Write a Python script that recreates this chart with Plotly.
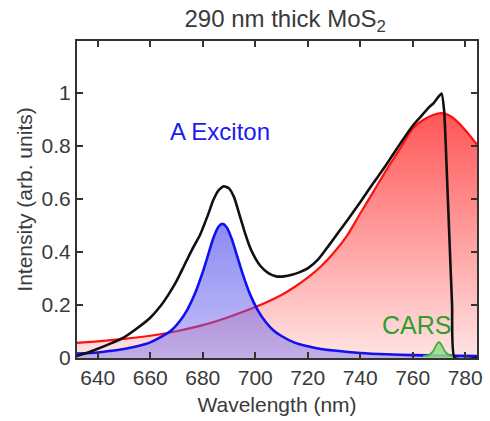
import plotly.graph_objects as go

# Wavelength grids (nm) and intensities (arb. units)
red_wl = [632, 640, 650, 660, 670, 680, 690, 700, 710, 715, 720, 725, 730, 735,
          740, 745, 750, 755, 760, 764, 768, 771, 774, 777, 780, 784.5]
red_int = [0.057, 0.063, 0.072, 0.084, 0.101, 0.124, 0.155, 0.192, 0.238, 0.268,
           0.303, 0.345, 0.398, 0.462, 0.545, 0.627, 0.71, 0.787, 0.866, 0.898,
           0.918, 0.924, 0.915, 0.892, 0.86, 0.805]

exciton_wl = [632, 640, 645, 650, 655, 660, 665, 668, 671, 674, 677, 680, 682, 684,
              686, 687.5, 689, 691, 693, 695, 698, 701, 704, 707, 710, 715, 720,
              725, 730, 740, 750, 760, 770, 784.5]
exciton_int = [0.017, 0.021, 0.027, 0.034, 0.044, 0.059, 0.084, 0.104, 0.136, 0.18,
               0.242, 0.324, 0.387, 0.451, 0.495, 0.506, 0.495, 0.451, 0.388, 0.324,
               0.241, 0.18, 0.136, 0.104, 0.083, 0.058, 0.044, 0.034, 0.028, 0.019,
               0.014, 0.011, 0.009, 0.007]

cars_wl = [764, 766, 767.5, 768.5, 769.5, 770, 770.5, 771.5, 772.5, 774, 776]
cars_int = [0.008, 0.011, 0.022, 0.04, 0.056, 0.06, 0.056, 0.04, 0.022, 0.011, 0.008]

total_wl = [632, 636, 640, 645, 650, 655, 660, 664, 667, 670, 673, 676, 679, 682,
            684, 686, 688, 690, 692, 694, 696, 698, 700, 702, 705, 708, 711, 714,
            717, 720, 724, 728, 732, 736, 740, 745, 750, 755, 760, 763, 766, 768,
            770, 771, 772, 773, 774, 775, 776, 784.5]
total_int = [0.008, 0.02, 0.035, 0.055, 0.078, 0.112, 0.152, 0.197, 0.24, 0.29,
             0.35, 0.41, 0.465, 0.54, 0.595, 0.632, 0.648, 0.64, 0.605, 0.54, 0.475,
             0.418, 0.377, 0.347, 0.32, 0.308, 0.308, 0.314, 0.324, 0.338, 0.372,
             0.424, 0.478, 0.532, 0.588, 0.66, 0.73, 0.805, 0.876, 0.91, 0.944,
             0.962, 0.988, 0.998, 0.93, 0.7, 0.45, 0.2, 0.0, 0.0]

x_ticks = [640, 660, 680, 700, 720, 740, 760, 780]
y_ticks = [0, 0.2, 0.4, 0.6, 0.8, 1]
y_tick_text = ["0", "0.2", "0.4", "0.6", "0.8", "1"]

FONT = "Liberation Sans, Arial, Helvetica, sans-serif"
TXT = "#3a3a3a"

fig = go.Figure()

# broad emission band with red vertical gradient fill
fig.add_trace(go.Scatter(
    x=red_wl, y=red_int, mode="lines",
    line=dict(color="#ff1010", width=2.2, shape="spline", smoothing=0.8),
    fill="tozeroy",
    fillgradient=dict(type="vertical", start=0, stop=0.93,
                      colorscale=[[0, "rgb(255,228,228)"], [1, "rgb(255,85,85)"]]),
    hoverinfo="skip", showlegend=False))

# A exciton peak, translucent blue fill
fig.add_trace(go.Scatter(
    x=exciton_wl, y=exciton_int, mode="lines",
    line=dict(color="#1010f0", width=2.6, shape="spline", smoothing=0.8),
    fill="tozeroy",
    fillgradient=dict(type="vertical", start=0, stop=0.51,
                      colorscale=[[0, "rgba(110,100,235,0.42)"],
                                  [1, "rgba(60,60,235,0.6)"]]),
    hoverinfo="skip", showlegend=False))

# CARS line
fig.add_trace(go.Scatter(
    x=cars_wl, y=cars_int, mode="lines",
    line=dict(color="#3cb03c", width=1.8, shape="spline", smoothing=0.8),
    fill="tozeroy", fillcolor="rgba(150,220,140,0.85)",
    hoverinfo="skip", showlegend=False))

# measured spectrum
fig.add_trace(go.Scatter(
    x=total_wl, y=total_int, mode="lines",
    line=dict(color="#111111", width=2.6, shape="spline", smoothing=0.5),
    hoverinfo="skip", showlegend=False))

fig.add_annotation(x=686.4, y=0.854, text="A Exciton", showarrow=False,
                   font=dict(family=FONT, size=24, color="#1a1af0"))
fig.add_annotation(x=761.5, y=0.125, text="CARS", showarrow=False,
                   font=dict(family=FONT, size=25, color="#2e9e2e"))

fig.update_layout(
    width=490, height=421,
    margin=dict(l=77, r=7, t=41, b=63),
    paper_bgcolor="white", plot_bgcolor="white",
    font=dict(family=FONT, size=21, color=TXT),
    title=dict(text="290 nm thick MoS<sub>2</sub>", x=0.582, xref="container",
               xanchor="center", y=0.957, yref="container", yanchor="middle",
               font=dict(family=FONT, size=24, color=TXT)),
)

axis_common = dict(showline=True, linecolor="#333333", linewidth=2, mirror="ticks",
                   ticks="inside", ticklen=6, tickwidth=1.5, tickcolor="#333333",
                   showgrid=False, zeroline=False,
                   tickfont=dict(family=FONT, size=21, color=TXT))

fig.update_xaxes(range=[632.1, 784.5], tickvals=x_ticks,
                 title=dict(text="Wavelength (nm)", standoff=9,
                            font=dict(family=FONT, size=21, color=TXT)),
                 **axis_common)
fig.update_yaxes(range=[0, 1.196], tickvals=y_ticks, ticktext=y_tick_text,
                 title=dict(text="Intensity (arb. units)", standoff=3,
                            font=dict(family=FONT, size=21, color=TXT)),
                 **axis_common)

fig.write_html("out.html")
